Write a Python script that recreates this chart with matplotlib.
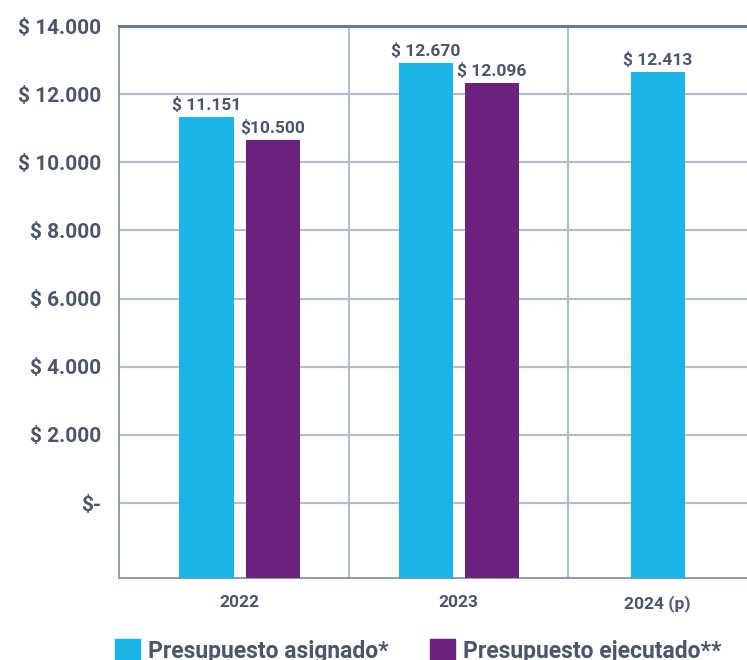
"""Presupuesto asignado vs ejecutado, 2022-2024 (p)."""

import matplotlib

matplotlib.use("Agg")
import matplotlib.pyplot as plt
from matplotlib.patches import Patch


YEARS = ["2022", "2023", "2024 (p)"]
ASIGNADO = [11151, 12670, 12413]
EJECUTADO = [10500, 12096, None]
ASIGNADO_LABELS = ["$ 11.151", "$ 12.670", "$ 12.413"]
EJECUTADO_LABELS = ["$10.500", "$ 12.096", None]
SERIES_NAMES = ["Presupuesto asignado*", "Presupuesto ejecutado**"]
Y_TICKS = [0, 2000, 4000, 6000, 8000, 10000, 12000, 14000]
Y_TICK_LABELS = ["$-", "$ 2.000", "$ 4.000", "$ 6.000", "$ 8.000",
                 "$ 10.000", "$ 12.000", "$ 14.000"]

BLUE = "#1bb4e7"
PURPLE = "#6c227d"
TEXT = "#4a5669"
GRID = "#b0c0c9"
FRAME = "#657f8e"

# the tick scale and the bar scale of the original do not line up,
# so each gets its own axis over the same frame; bars rise from the floor
TICK_YLIM = (-2201, 14000)
BAR_YLIM = (-1843, 13711)
XLIM = (-0.55, 2.315)
BAR_WIDTH = 0.247
BAR_GAP = 0.055


def section_center(i: int) -> float:
    """Center of the visible part of category section i."""
    return (i - 0.5 + min(i + 0.5, XLIM[1])) / 2


def main() -> None:
    plt.rcParams["font.family"] = ["Roboto", "DejaVu Sans"]
    plt.rcParams["font.weight"] = "bold"

    fig = plt.figure(figsize=(7.47, 6.6), dpi=100)
    ax = fig.add_axes([119 / 747, 1 - 578 / 660, 628 / 747, 552 / 660])
    ax.set_xlim(*XLIM)
    ax.set_ylim(*TICK_YLIM)
    ax.set_yticks(Y_TICKS)
    ax.set_yticklabels(Y_TICK_LABELS, fontsize=15, color=TEXT)
    ax.tick_params(axis="y", length=0, pad=13)
    ax.yaxis.grid(True, color=GRID, linewidth=1.6)
    ax.set_axisbelow(True)
    for i in range(len(YEARS) - 1):
        ax.axvline(i + 0.5, color=GRID, linewidth=1.6, zorder=0.5)

    ax.spines["right"].set_visible(False)
    ax.spines["top"].set_color(FRAME)
    ax.spines["top"].set_linewidth(2.2)
    for side in ("left", "bottom"):
        ax.spines[side].set_color("#7f96a3")
        ax.spines[side].set_linewidth(1.3)

    centers = [section_center(i) for i in range(len(YEARS))]
    ax.set_xticks(centers)
    ax.set_xticklabels(YEARS, fontsize=12.5, color=TEXT)
    ax.tick_params(axis="x", length=0, pad=12)

    bars = ax.twinx()
    bars.set_ylim(*BAR_YLIM)
    bars.set_xlim(*XLIM)
    bars.yaxis.set_visible(False)
    for spine in bars.spines.values():
        spine.set_visible(False)

    floor = BAR_YLIM[0]
    offset = (BAR_WIDTH + BAR_GAP) / 2
    for i, center in enumerate(centers):
        pairs = [(ASIGNADO[i], ASIGNADO_LABELS[i], BLUE),
                 (EJECUTADO[i], EJECUTADO_LABELS[i], PURPLE)]
        pairs = [p for p in pairs if p[0] is not None]
        shifts = [0.0] if len(pairs) == 1 else [-offset, offset]
        for (value, label, color), shift in zip(pairs, shifts):
            bars.bar(center + shift, value - floor, bottom=floor,
                     width=BAR_WIDTH, color=color)
            bars.annotate(label, (center + shift, value), xytext=(0, 5),
                          textcoords="offset points", ha="center",
                          va="baseline", fontsize=12.5, color=TEXT)

    handles = [Patch(color=BLUE), Patch(color=PURPLE)]
    fig.legend(handles, SERIES_NAMES, loc="upper left",
               bbox_to_anchor=(115 / 747, 1 - 639 / 660), ncol=2,
               frameon=False, prop={"size": 16.5, "weight": "bold"},
               labelcolor=TEXT, handlelength=1.1, handleheight=1.1,
               handletextpad=0.35, columnspacing=1.8,
               borderpad=0, borderaxespad=0)

    fig.savefig("out.png", dpi=100)
    plt.close(fig)


if __name__ == "__main__":
    main()
